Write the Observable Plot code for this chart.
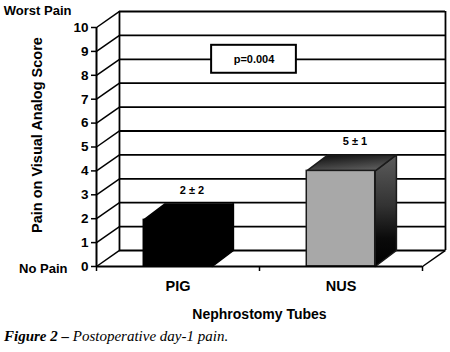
<!DOCTYPE html>
<html><head><meta charset="utf-8">
<script src="https://cdn.jsdelivr.net/npm/d3@7"></script>
<script src="https://cdn.jsdelivr.net/npm/@observablehq/plot@0.6"></script>
<style>
body{margin:0;background:#fff;}
#chart svg text{font-weight:700;}
#cap{font-family:"Liberation Serif","Times New Roman",serif;font-style:italic;font-size:15px;margin:5px 0 0 4px;line-height:18px;color:#000;}
</style></head><body>
<div id="chart"></div>
<div id="cap"><b>Figure 2 –</b> Postoperative day-1 pain.</div>
<script>
const categories = ["PIG", "NUS"];
const values = [1.95, 4.0];
const valueLabels = ["2 ± 2", "5 ± 1"];
const yTicks = [0, 1, 2, 3, 4, 5, 6, 7, 8, 9, 10];
const pValue = ["p=0.004"];
const yTitle = ["Pain on Visual Analog Score"];
const xTitle = ["Nephrostomy Tubes"];
const yEnds = ["No Pain", "Worst Pain"];

// 3-D depth (in data units) — style
const dX = 0.141, dY = 0.67;
const bdX = 0.13, bdY = 0.67, hw = 0.21;

const bars = categories.map((c, i) => ({c, x: i + 0.5, v: values[i], label: valueLabels[i]}));
const topPoly = b => [
  {x: b.x - hw, y: b.v}, {x: b.x + hw, y: b.v},
  {x: b.x + hw + bdX, y: b.v + bdY}, {x: b.x - hw + bdX, y: b.v + bdY},
  {x: b.x - hw, y: b.v}
];
const sidePoly = b => [
  {x: b.x + hw, y: 0}, {x: b.x + hw + bdX, y: bdY},
  {x: b.x + hw + bdX, y: b.v + bdY}, {x: b.x + hw, y: b.v},
  {x: b.x + hw, y: 0}
];
const faceStyle = [
  {front: "#000", side: "#000", top: "#000", stroke: "#000"},
  {front: "#a8a8a8", side: "url(#gSide)", top: "url(#gTop)", stroke: "#1a1a1a"}
];

const barMarks = bars.flatMap((b, i) => {
  const s = faceStyle[i];
  return [
    Plot.line(sidePoly(b), {x: "x", y: "y", fill: s.side, stroke: s.stroke, strokeWidth: 1.5, strokeLinejoin: "round"}),
    Plot.line(topPoly(b), {x: "x", y: "y", fill: s.top, stroke: s.stroke, strokeWidth: 1.5, strokeLinejoin: "round"}),
    Plot.rect([b], {x1: d => d.x - hw, x2: d => d.x + hw, y1: 0, y2: d => d.v, fill: s.front, stroke: s.stroke, strokeWidth: 1.5})
  ];
});

const chart = Plot.plot({
  width: 450, height: 322,
  marginTop: 27, marginBottom: 56, marginLeft: 96, marginRight: 28,
  x: {type: "linear", domain: [0, 2]},
  y: {domain: [0, 10]},
  style: {fontFamily: "'Liberation Sans', Arial, sans-serif", fontSize: "13px", color: "#000", background: "#fff", overflow: "visible"},
  marks: [
    // left wall diagonals
    Plot.link(yTicks, {x1: 0, y1: d => d, x2: dX, y2: d => d + dY, stroke: "#000", strokeWidth: 1.5}),
    // back wall gridlines & edges
    Plot.ruleY(yTicks, {y: d => d + dY, x1: dX, x2: 2 + dX, stroke: "#000", strokeWidth: 1.8}),
    Plot.ruleX([dX, 2 + dX], {y1: dY, y2: 10 + dY, stroke: "#000", strokeWidth: 1.8}),
    // right floor diagonal
    Plot.link([2], {x1: d => d, y1: 0, x2: d => d + dX, y2: dY, stroke: "#000", strokeWidth: 1.5}),
    // p-value box
    Plot.rect(pValue, {x1: 1 - 0.26, x2: 1 + 0.26, y1: 8 + dY - 0.585, y2: 8 + dY + 0.585, dx: -5.5, fill: "#fff", stroke: "#000", strokeWidth: 2}),
    Plot.text(pValue, {x: 1, y: 8 + dY, dx: -5.5, text: d => d, fontSize: 11, fontWeight: "bold"}),
    ...barMarks,
    // front floor line & y axis line
    Plot.ruleY([0], {x1: 0, x2: 2, stroke: "#000", strokeWidth: 2}),
    Plot.ruleX([0], {y1: 0, y2: 10, stroke: "#000", strokeWidth: 2}),
    Plot.axisY({ticks: yTicks, tickSize: 5, tickPadding: 3, fontSize: 13.5, fontWeight: "bold", label: null, strokeWidth: 1.5}),
    Plot.axisX({ticks: [0, 1, 2], tickSize: 5, tickFormat: () => "", label: null, strokeWidth: 1.5}),
    // category labels
    Plot.text(bars, {x: "x", y: 0, dy: 20, text: "c", fontSize: 14.5, fontWeight: "bold"}),
    // value labels
    Plot.text(bars, {x: "x", y: "v", dx: 14, dy: -29, text: "label", fontSize: 11, fontWeight: "bold"}),
    // titles
    Plot.text(yTitle, {x: 0, y: 5.5, dx: -59, rotate: -90, text: d => d, fontSize: 14.5, fontWeight: "bold"}),
    Plot.text(xTitle, {x: 1, y: 0, dy: 48, text: d => d, fontSize: 14, fontWeight: "bold"}),
    Plot.text([yEnds[1]], {x: 0, y: 10, dx: -25, dy: -17, textAnchor: "end", text: d => d, fontSize: 13, fontWeight: "bold"}),
    Plot.text([yEnds[0]], {x: 0, y: 0, dx: -29, dy: 2, textAnchor: "end", text: d => d, fontSize: 13, fontWeight: "bold"})
  ]
});

d3.select(chart).insert("defs", ":first-child").html(
  '<linearGradient id="gSide" x1="0" y1="0" x2="0" y2="1">' +
  '<stop offset="0" stop-color="#5c5c5c"/><stop offset="0.45" stop-color="#333"/><stop offset="0.75" stop-color="#0a0a0a"/><stop offset="1" stop-color="#000"/></linearGradient>' +
  '<linearGradient id="gTop" x1="0" y1="0" x2="0.5" y2="1">' +
  '<stop offset="0" stop-color="#080808"/><stop offset="1" stop-color="#5a5a5a"/></linearGradient>'
);
document.getElementById("chart").appendChild(chart);
</script>
</body></html>
